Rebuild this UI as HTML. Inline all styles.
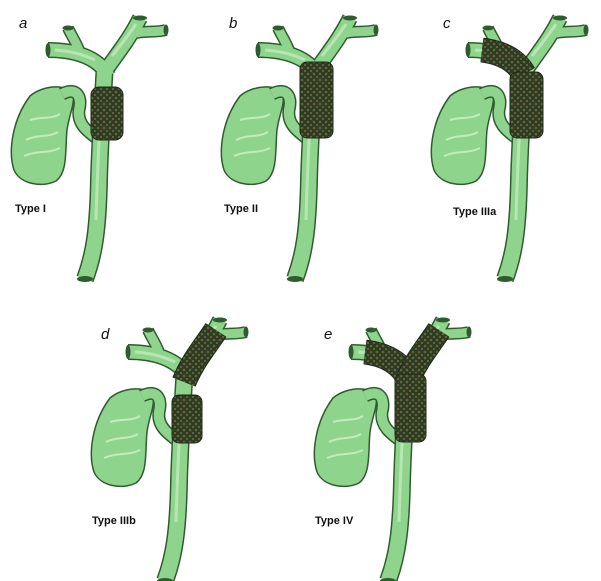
<!DOCTYPE html>
<html><head><meta charset="utf-8"><style>
html,body{margin:0;padding:0;background:#fff;width:601px;height:581px;overflow:hidden}
text{font-family:"Liberation Sans",sans-serif}
</style></head><body>
<svg width="601" height="581" viewBox="0 0 601 581" xmlns="http://www.w3.org/2000/svg">
<defs>
<pattern id="tex" width="6" height="6" patternUnits="userSpaceOnUse">
<rect width="6" height="6" fill="#2e3a22"/>
<circle cx="2" cy="2" r="1.3" fill="#5a6a38"/>
<circle cx="5" cy="5" r="1" fill="#7d6a44"/>
</pattern>
<g id="base" fill="none">
<path d="M30,96 C44,84 70,84 73,95 C75,104 69,115 67,130 C65,150 68,172 56,181 C42,188 20,184 14,170 C8,152 12,120 30,96 Z" fill="#8fd48c" stroke="#2f5c2f" stroke-width="1.5"/>
<path d="M26,140 C38,134 48,138 58,132 M24,156 C38,150 48,154 60,148 M30,120 C42,116 50,120 60,114" stroke="#c3ecbd" stroke-width="2"/>
<path d="M62,94 C78,86 82,98 79,110 C77,124 88,132 99,140" stroke="#2f5c2f" stroke-width="13"/>
<path d="M62,94 C78,86 82,98 79,110 C77,124 88,132 99,140" stroke="#8fd48c" stroke-width="10"/>
<g stroke="#2f5c2f">
<path d="M105,62 C103,100 100,140 99,180 C98,230 94,255 85,279" stroke-width="18"/>
<path d="M108,76 C98,56 72,50 48,50" stroke-width="16"/>
<path d="M79,50 C75,40 71,35 68,28" stroke-width="12"/>
<path d="M102,76 C115,56 128,42 140,18" stroke-width="16"/>
<path d="M132,34 C145,30 155,33 166,30" stroke-width="12"/>
</g>
<g stroke="#8fd48c">
<path d="M105,62 C103,100 100,140 99,180 C98,230 94,255 85,279" stroke-width="15"/>
<path d="M108,76 C98,56 72,50 48,50" stroke-width="13"/>
<path d="M79,50 C75,40 71,35 68,28" stroke-width="9"/>
<path d="M102,76 C115,56 128,42 140,18" stroke-width="13"/>
<path d="M132,34 C145,30 155,33 166,30" stroke-width="9"/>
</g>
<g stroke="#b8e6b2" stroke-width="3">
<path d="M101,100 C99,140 97,180 96,220"/>
<path d="M95,60 C80,53 68,51 55,50"/>
<path d="M112,56 C120,46 128,36 136,24"/>
</g>
<g fill="#2f5c2f">
<ellipse cx="85" cy="279" rx="8" ry="3"/>
<ellipse cx="48" cy="50" rx="2.5" ry="7"/>
<ellipse cx="140" cy="18" rx="7" ry="2.5"/>
<ellipse cx="166" cy="30" rx="2.5" ry="5.5"/>
<ellipse cx="68" cy="28" rx="5.5" ry="2.5"/>
</g>
</g>
</defs>

<g transform="translate(0,0)">
<use href="#base"/>
<rect x="91" y="87" width="32" height="53" rx="8" fill="url(#tex)" stroke="#1e2a18"/>
</g>
<g transform="translate(210,0)">
<use href="#base"/>
<rect x="90" y="62" width="33" height="76" rx="7" fill="url(#tex)" stroke="#1e2a18"/>
</g>
<g transform="translate(420,0)">
<use href="#base"/>
<path d="M104,74 C95,58 78,52 62,50" stroke="#1e2a18" stroke-width="25" fill="none"/>
<path d="M104,74 C95,58 78,52 62,50" stroke="url(#tex)" stroke-width="23" fill="none"/>
<rect x="90" y="72" width="33" height="66" rx="7" fill="url(#tex)" stroke="#1e2a18"/>
</g>
<g transform="translate(80,302)">
<use href="#base"/>
<path d="M104,80 C112,60 124,46 136,28" stroke="#1e2a18" stroke-width="25" fill="none"/>
<path d="M104,80 C112,60 124,46 136,28" stroke="url(#tex)" stroke-width="23" fill="none"/>
<rect x="92" y="93" width="30" height="48" rx="7" fill="url(#tex)" stroke="#1e2a18"/>
</g>
<g transform="translate(303,302)">
<use href="#base"/>
<path d="M104,74 C95,58 78,52 62,50" stroke="#1e2a18" stroke-width="25" fill="none"/>
<path d="M104,74 C95,58 78,52 62,50" stroke="url(#tex)" stroke-width="23" fill="none"/>
<path d="M104,80 C112,60 124,46 136,28" stroke="#1e2a18" stroke-width="25" fill="none"/>
<path d="M104,80 C112,60 124,46 136,28" stroke="url(#tex)" stroke-width="23" fill="none"/>
<rect x="92" y="72" width="31" height="68" rx="7" fill="url(#tex)" stroke="#1e2a18"/>
</g>

<g font-size="15" font-style="italic" fill="#111">
<text x="19" y="28">a</text>
<text x="229" y="28">b</text>
<text x="443" y="28">c</text>
<text x="101" y="339">d</text>
<text x="324" y="339">e</text>
</g>
<g font-size="11" font-weight="bold" fill="#111">
<text x="15" y="212">Type I</text>
<text x="224" y="212">Type II</text>
<text x="453" y="215">Type IIIa</text>
<text x="92" y="524">Type IIIb</text>
<text x="315" y="524">Type IV</text>
</g>
</svg>
</body></html>
